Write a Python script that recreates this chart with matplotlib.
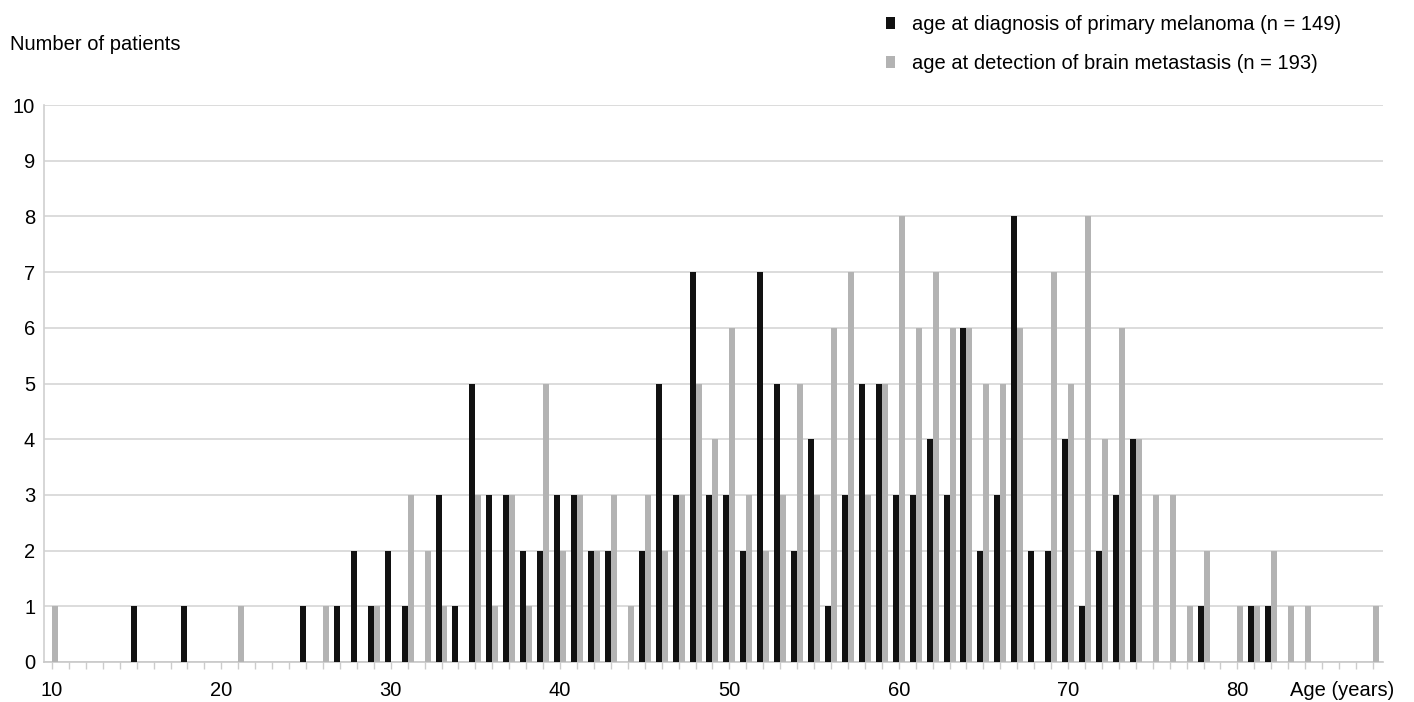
import matplotlib
matplotlib.use("Agg")
import matplotlib.pyplot as plt
import matplotlib.ticker as mtick

plt.rcParams['font.family'] = ['Liberation Sans', 'DejaVu Sans']

# counts per age (years)
primary_ages = [15, 18, 25, 27, 28, 29, 30, 31, 33, 34, 35, 36, 37, 38, 39, 40, 41, 42, 43,
                45, 46, 47, 48, 49, 50, 51, 52, 53, 54, 55, 56, 57, 58, 59, 60, 61, 62, 63,
                64, 65, 66, 67, 68, 69, 70, 71, 72, 73, 74, 78, 81, 82]
primary_counts = [1, 1, 1, 1, 2, 1, 2, 1, 3, 1, 5, 3, 3, 2, 2, 3, 3, 2, 2,
                  2, 5, 3, 7, 3, 3, 2, 7, 5, 2, 4, 1, 3, 5, 5, 3, 3, 4, 3,
                  6, 2, 3, 8, 2, 2, 4, 1, 2, 3, 4, 1, 1, 1]

brain_ages = [10, 21, 26, 29, 31, 32, 33, 35, 36, 37, 38, 39, 40, 41, 42, 43, 44, 45, 46,
              47, 48, 49, 50, 51, 52, 53, 54, 55, 56, 57, 58, 59, 60, 61, 62, 63, 64, 65,
              66, 67, 69, 70, 71, 72, 73, 74, 75, 76, 77, 78, 80, 81, 82, 83, 84, 88]
brain_counts = [1, 1, 1, 1, 3, 2, 1, 3, 1, 3, 1, 5, 2, 3, 2, 3, 1, 3, 2,
                3, 5, 4, 6, 3, 2, 3, 5, 3, 6, 7, 3, 5, 8, 6, 7, 6, 6, 5,
                5, 6, 7, 5, 8, 4, 6, 4, 3, 3, 1, 2, 1, 1, 2, 1, 1, 1]

x_labels = [10, 20, 30, 40, 50, 60, 70, 80]

label_primary = 'age at diagnosis of primary melanoma (n = 149)'
label_brain = 'age at detection of brain metastasis (n = 193)'

fs = 14.5
w = 0.354

fig = plt.figure(figsize=(14.14, 7.02), dpi=100)
ax = fig.add_axes([0.0308, 0.057, 0.9473, 0.7934])

# black bar left of the tick, grey bar right of it
b1 = ax.bar([a - w / 2 for a in primary_ages], primary_counts, width=w,
            color='#111111', zorder=3, label=label_primary)
b2 = ax.bar([a + w / 2 for a in brain_ages], brain_counts, width=w,
            color='#b3b3b3', zorder=3, label=label_brain)

ax.set_xlim(9.5, 88.6)
ax.set_ylim(0, 10)

ax.set_yticks(range(0, 11))
ax.yaxis.grid(True, color='#d9d9d9', linewidth=1.3, zorder=0)
ax.tick_params(axis='y', length=0, pad=6, labelsize=fs)

ax.set_xticks(x_labels)
ax.xaxis.set_minor_locator(mtick.MultipleLocator(1))
ax.tick_params(axis='x', which='both', length=5, width=1, color='#cccccc',
               pad=9, labelsize=fs)

for side in ['top', 'right']:
    ax.spines[side].set_visible(False)
ax.spines['left'].set_color('#d0d0d0')
ax.spines['bottom'].set_color('#c8c8c8')
ax.spines['left'].set_linewidth(1.2)
ax.spines['bottom'].set_linewidth(1.2)

fig.text(10 / 1414, 1 - 45 / 702, 'Number of patients', fontsize=fs,
         ha='left', va='center')
fig.text(1290 / 1414, 1 - 691 / 702, 'Age (years)', fontsize=fs,
         ha='left', va='center')

ax.legend(handles=[b1, b2], loc='upper left',
          bbox_to_anchor=(880 / 1414, 1 - 9 / 702), bbox_transform=fig.transFigure,
          frameon=False, fontsize=fs, handlelength=0.45, handleheight=0.5,
          handletextpad=0.85, labelspacing=1.0, borderaxespad=0, borderpad=0.3)

fig.savefig('out.png', dpi=100)
